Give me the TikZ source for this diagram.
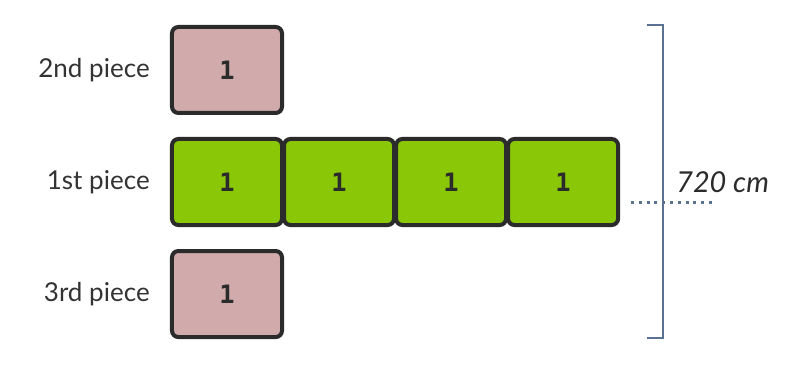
\documentclass[tikz,border=0pt]{standalone}
\usepackage{fontspec}
\setmainfont{Lato}
\newfontfamily\digitfont{DejaVu Sans Mono}
\usetikzlibrary{positioning}
\definecolor{boxline}{HTML}{2B2B2B}
\definecolor{pinkfill}{HTML}{D1ABAB}
\definecolor{greenfill}{HTML}{8AC807}
\definecolor{slate}{HTML}{5B7191}
\definecolor{labeltext}{HTML}{333333}
\tikzset{
    piecebox/.style={draw=boxline, line width=0.1cm, rounded corners=0.16cm,
        minimum width=2.75cm, minimum height=2.15cm, inner sep=0pt,
        font=\digitfont\bfseries\fontsize{18}{18}\selectfont, text=boxline},
    pinkbox/.style={piecebox, fill=pinkfill},
    greenbox/.style={piecebox, fill=greenfill},
    piecelabel/.style={inner sep=0pt, text=labeltext, font=\fontsize{18.5}{18.5}\selectfont},
}
\begin{document}
\begin{tikzpicture}[x=0.025cm, y=-0.025cm]
    \useasboundingbox (0,0) rectangle (797,364);

    % first piece, four squares in a row
    \node[greenbox] (g1) at (227,182) {1};
    \node[greenbox, right=-0.05cm of g1] (g2) {1};
    \node[greenbox, right=-0.05cm of g2] (g3) {1};
    \node[greenbox, right=-0.05cm of g3] (g4) {1};

    % the other two pieces
    \node[pinkbox, above=0.55cm of g1] (p2) {1};
    \node[pinkbox, below=0.55cm of g1] (p3) {1};

    \node[piecelabel, left=0.5cm of p2] (l2) {2nd piece};
    \node[piecelabel, left=0.5cm of g1] (l1) {1st piece};
    \node[piecelabel, left=0.5cm of p3] (l3) {3rd piece};

    % bracket and length
    \coordinate (bt) at (647,25);
    \coordinate (bb) at (647,338);
    \draw[slate, line width=0.05cm] (bt) -- (663,25) -- (663,338) -- (bb);

    \coordinate (da) at (631,202);
    \coordinate (db) at (716,202);
    \draw[slate, line width=0.075cm, dash pattern=on 0.075cm off 0.12cm] (da) -- (db);

    \node[anchor=base west, inner sep=0pt, text=boxline,
        font=\itshape\fontsize{20.5}{20.5}\selectfont] (len) at (676,192) {720 cm};

\end{tikzpicture}
\end{document}
